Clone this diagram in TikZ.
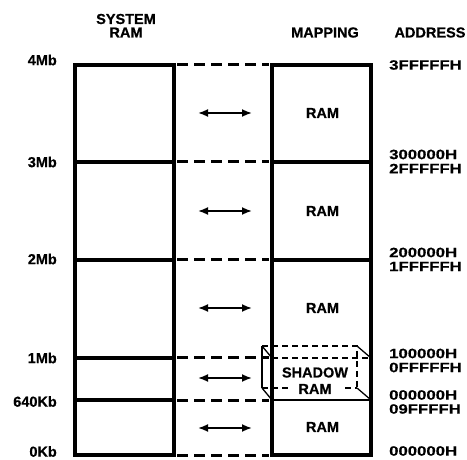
\documentclass[tikz,border=0pt]{standalone}
\usepackage{fontspec}
\setmainfont{Liberation Sans}[BoldFeatures={FakeBold=0.6}]
\newfontfamily\adrfont{Liberation Sans}[BoldFeatures={FakeBold=0.6,FakeStretch=1.24}]
\usetikzlibrary{arrows.meta}
\begin{document}
\begin{tikzpicture}[x=1pt,y=-1pt,
  lbl/.style={font=\bfseries\fontsize{14.5}{15}\selectfont, inner sep=0pt},
  adr/.style={lbl, anchor=west, font=\adrfont\bfseries\fontsize{13.5}{14}\selectfont},
  thickline/.style={line width=3.2pt},
  dashline/.style={line width=3pt, dash pattern=on 11pt off 6pt},
  thinline/.style={line width=1.3pt},
  shadowline/.style={line width=1.2pt, dash pattern=on 6pt off 4pt},
  arr/.style={line width=1.8pt, {Latex[length=10pt,width=8pt]}-{Latex[length=10pt,width=8pt]}}]
\useasboundingbox (0,0) rectangle (467,460);
% headings
\node[lbl] (hs1) at (126,19) {SYSTEM};
\node[lbl] (hs2) at (126,32.5) {RAM};
\node[lbl] (hmap) at (325,32.5) {MAPPING};
\node[lbl] (hadr) at (430,32.5) {ADDRESS};
% left labels
\node[lbl,anchor=east] (l4) at (57,60) {4Mb};
\node[lbl,anchor=east] (l3) at (57,162) {3Mb};
\node[lbl,anchor=east] (l2) at (57,259) {2Mb};
\node[lbl,anchor=east] (l1) at (57,358) {1Mb};
\node[lbl,anchor=east] (l640) at (57,401.5) {640Kb};
\node[lbl,anchor=east] (l0) at (57,451.5) {0Kb};
% right address labels
\node[adr] (a1) at (389,65) {3FFFFFH};
\node[adr] (a2) at (389,154.5) {300000H};
\node[adr] (a3) at (389,168.5) {2FFFFFH};
\node[adr] (a4) at (389,252.5) {200000H};
\node[adr] (a5) at (389,266.5) {1FFFFFH};
\node[adr] (a6) at (389,353.5) {100000H};
\node[adr] (a7) at (389,367.5) {0FFFFFH};
\node[adr] (a8) at (389,395) {000000H};
\node[adr] (a9) at (389,409) {09FFFFH};
\node[adr] (a10) at (389,451) {000000H};
% boxes
\draw[thickline] (75,65) rectangle (174,455);
\draw[thickline] (272,65) rectangle (371,455);
\foreach \yy in {162,260,358,400} \draw[thickline] (75,\yy) -- (174,\yy);
\foreach \yy in {162,260} \draw[thickline] (272,\yy) -- (371,\yy);
\draw[thinline] (272,400) -- (371,400);
\draw[shadowline] (272,358) -- (371,358);
% dashed connectors
\foreach \yy in {65,162,260,358,400,455} \draw[dashline] (177,\yy) -- (269,\yy);
% shadow ram back face
\draw[shadowline] (262,346) -- (357,346) -- (357,388);
\draw[thinline] (262,346) -- (262,388);
\draw[shadowline] (262,388) -- (290,388);
\draw[shadowline] (345,388) -- (357,388);
\draw[thinline] (262,346) -- (272,358);
\draw[thinline] (357,346) -- (371,358);
\draw[thinline] (262,388) -- (272,400);
\draw[thinline] (357,388) -- (371,400);
% RAM labels
\node[lbl] (r1) at (322.5,113) {RAM};
\node[lbl] (r2) at (322.5,211) {RAM};
\node[lbl] (r3) at (322.5,308) {RAM};
\node[lbl,fill=white,inner sep=1pt] (r4) at (315,372.5) {SHADOW};
\node[lbl,fill=white,inner sep=1pt] (r5) at (315,389) {RAM};
\node[lbl] (r6) at (322.5,427) {RAM};
% arrows
\foreach \yy [count=\i] in {113,211,308,378,428} {
  \coordinate (al\i) at (198,\yy);
  \coordinate (ar\i) at (252,\yy);
  \draw[arr] (al\i) -- (ar\i);
}
\end{tikzpicture}
\end{document}
